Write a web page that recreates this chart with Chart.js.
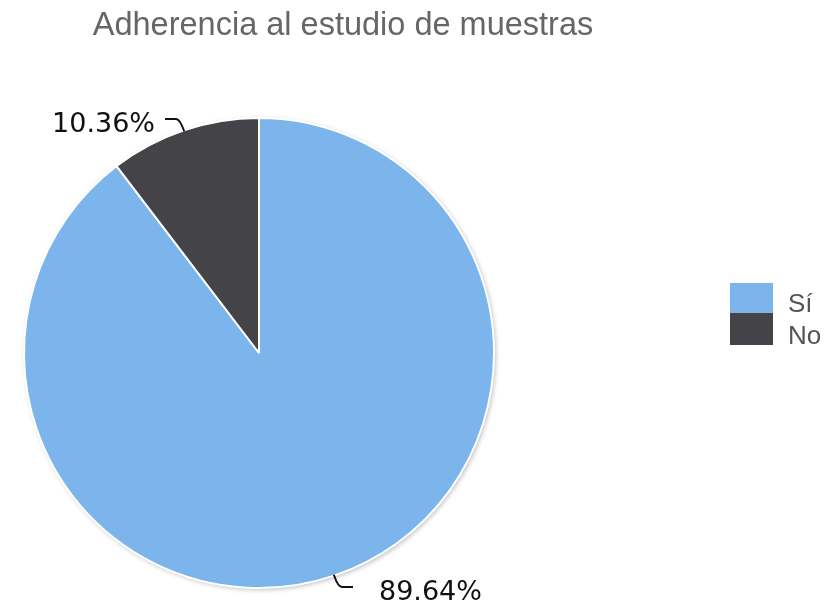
<!DOCTYPE html>
<html>
<head>
<meta charset="utf-8">
<script src="https://cdn.jsdelivr.net/npm/chart.js@4.4.0/dist/chart.umd.min.js"></script>
<style>
  html, body { margin: 0; background: #fff; }
  #wrap { width: 829px; height: 609px; }
</style>
</head>
<body>
<div id="wrap"><canvas id="adherenceChart"></canvas></div>
<script>
const chartTitle = "Adherencia al estudio de muestras";
const categories = ["Sí", "No"];
const percentages = [89.64, 10.36];
const sliceColors = ["#7cb5ec", "#434348"];

const ctx = document.getElementById("adherenceChart").getContext("2d");

// soft shadow under the pie, like the original
const shadowPlugin = {
  id: "pieShadow",
  beforeDatasetsDraw(chart) {
    const arc = chart.getDatasetMeta(0).data[0];
    if (!arc) return;
    const c = chart.ctx;
    c.save();
    c.shadowColor = "rgba(0,0,0,0.28)";
    c.shadowBlur = 5;
    c.shadowOffsetX = 1.5;
    c.shadowOffsetY = 1.5;
    c.fillStyle = "#fff";
    c.beginPath();
    c.arc(arc.x, arc.y, arc.outerRadius, 0, Math.PI * 2);
    c.fill();
    c.restore();
  },
};

// title + legend drawn by hand so they can sit where the original had them
const decorPlugin = {
  id: "decor",
  afterDraw(chart) {
    const c = chart.ctx;
    c.save();
    c.fillStyle = "#666";
    c.font = '32.5px "Liberation Sans", Arial, sans-serif';
    c.textAlign = "center";
    c.textBaseline = "alphabetic";
    c.fillText(chartTitle, 343, 35);

    // legend
    const boxX = 730, boxW = 43;
    const rows = [{ y: 283, h: 30 }, { y: 313, h: 32 }];
    c.font = '26px "Liberation Sans", Arial, sans-serif';
    c.textAlign = "left";
    categories.forEach((label, i) => {
      c.fillStyle = sliceColors[i];
      c.fillRect(boxX, rows[i].y, boxW, rows[i].h);
      c.fillStyle = "#555";
      c.fillText(label, 788, rows[i].y + rows[i].h - 1);
    });
    c.restore();
  },
};

// percentage labels with little hooked leader lines
const labelPlugin = {
  id: "pieLabels",
  afterDatasetsDraw(chart) {
    const c = chart.ctx;
    const meta = chart.getDatasetMeta(0);
    const gaps = [26, 10];
    c.save();
    c.strokeStyle = "#111";
    c.lineWidth = 2;
    c.fillStyle = "#111";
    c.font = '27px "DejaVu Sans", Verdana, sans-serif';
    c.textBaseline = "middle";
    meta.data.forEach((arc, i) => {
      const { x, y, startAngle, endAngle, outerRadius } = arc.getProps(
        ["x", "y", "startAngle", "endAngle", "outerRadius"], true);
      const mid = (startAngle + endAngle) / 2;
      const cos = Math.cos(mid), sin = Math.sin(mid);
      const px = x + cos * (outerRadius - 1), py = y + sin * (outerRadius - 1);
      const kx = x + cos * (outerRadius + 12), ky = y + sin * (outerRadius + 12);
      const dir = cos >= 0 ? 1 : -1;
      const ex = kx + dir * 15;
      c.beginPath();
      c.moveTo(px, py);
      c.quadraticCurveTo(kx, ky, kx + dir * 4, ky);
      c.lineTo(ex, ky);
      c.stroke();
      c.textAlign = dir > 0 ? "left" : "right";
      c.fillText(percentages[i].toFixed(2) + "%", ex + dir * gaps[i], ky + 6);
    });
    c.restore();
  },
};

const adherenceChart = new Chart(ctx, {
  type: "pie",
  data: {
    labels: categories,
    datasets: [
      {
        data: percentages,
        backgroundColor: sliceColors,
        borderColor: "#fff",
        borderWidth: 2,
      },
    ],
  },
  options: {
    responsive: true,
    maintainAspectRatio: false,
    animation: false,
    layout: {
      padding: { left: 23, right: 334, top: 117, bottom: 20 },
    },
    plugins: {
      legend: { display: false },
      title: { display: false },
      tooltip: { enabled: false },
    },
  },
  plugins: [shadowPlugin, decorPlugin, labelPlugin],
});
</script>
</body>
</html>
